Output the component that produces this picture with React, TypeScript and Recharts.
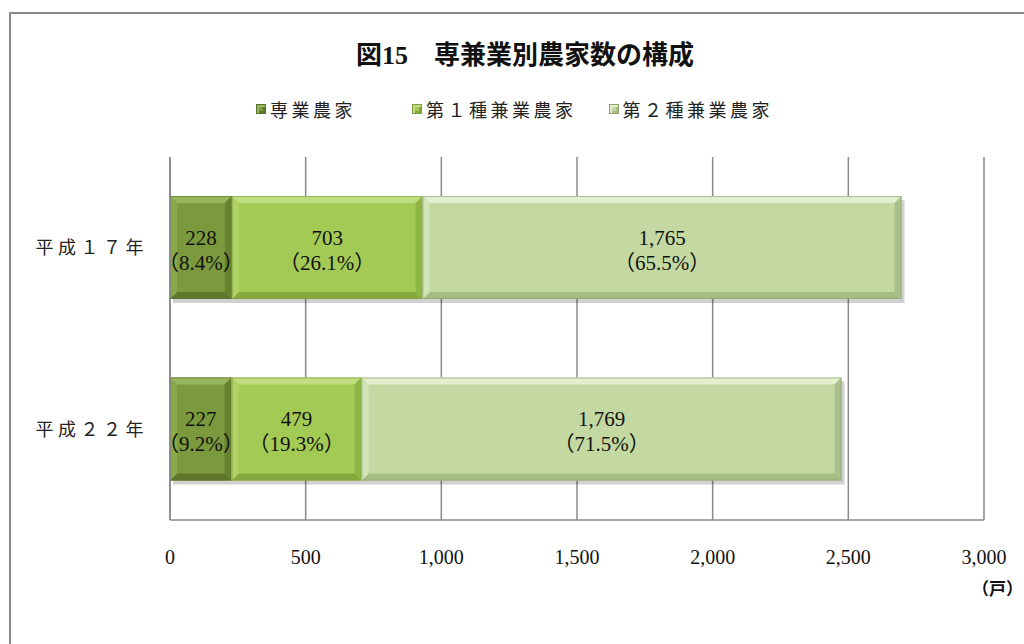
import React from "react";
import { BarChart, Bar, XAxis, YAxis, CartesianGrid, LabelList } from "recharts";

const categories = ["平成１７年", "平成２２年"];
const sengyo = [228, 227];
const dai1 = [703, 479];
const dai2 = [1765, 1769];
const sengyoPct = [8.4, 9.2];
const dai1Pct = [26.1, 19.3];
const dai2Pct = [65.5, 71.5];
const xTicks = [0, 500, 1000, 1500, 2000, 2500, 3000];

const seriesNames = ["専業農家", "第１種兼業農家", "第２種兼業農家"];

const data = categories.map((c, i) => ({
  category: c,
  sengyo: sengyo[i],
  dai1: dai1[i],
  dai2: dai2[i],
}));

type Bevel = { face: string; top: string; bottom: string; left: string; right: string; edge: string };

const bevels: Bevel[] = [
  { face: "#7b9a3d", top: "#98b75c", bottom: "#5e772c", left: "#88a849", right: "#66812f", edge: "#5a7029" },
  { face: "#a4ca56", top: "#c0de80", bottom: "#86a93e", left: "#b0d365", right: "#8fb446", edge: "#7f9c3e" },
  { face: "#c4d9a2", top: "#e2efcf", bottom: "#a5bc82", left: "#d2e4b8", right: "#a9c08a", edge: "#8ea070" },
];

const serif = '"Liberation Serif", "DejaVu Serif", "Noto Sans CJK JP", serif';
const jp = '"Liberation Serif", "Noto Sans CJK JP", serif';

// bar with a simple bevel + drop shadow, roughly like the Excel preset
const BevelBar = (bv: Bevel) => (props: any) => {
  const { x, y, width: w, height: h } = props;
  if (!w || !h) return null;
  const b = Math.min(7, w / 4);
  return (
    <g>
      <rect x={x + 3} y={y + 4} width={w} height={h} fill="rgba(0,0,0,0.18)" />
      <rect x={x} y={y} width={w} height={h} fill={bv.face} />
      <polygon points={`${x},${y} ${x + w},${y} ${x + w - b},${y + b} ${x + b},${y + b}`} fill={bv.top} />
      <polygon points={`${x},${y + h} ${x + w},${y + h} ${x + w - b},${y + h - b} ${x + b},${y + h - b}`} fill={bv.bottom} />
      <polygon points={`${x},${y} ${x + b},${y + b} ${x + b},${y + h - b} ${x},${y + h}`} fill={bv.left} />
      <polygon points={`${x + w},${y} ${x + w - b},${y + b} ${x + w - b},${y + h - b} ${x + w},${y + h}`} fill={bv.right} />
      <rect x={x + 0.5} y={y + 0.5} width={w - 1} height={h - 1} fill="none" stroke={bv.edge} strokeOpacity={0.6} />
    </g>
  );
};

const pctLabel = (pcts: number[]) => (props: any) => {
  const { x, y, width, height, value, index } = props;
  const cx = x + width / 2;
  const cy = y + height / 2;
  return (
    <text x={cx} y={cy} textAnchor="middle" fontFamily={serif} fontSize={21} fill="#111">
      <tspan x={cx} dy={-3}>{Number(value).toLocaleString("en-US")}</tspan>
      <tspan x={cx} dy={25}>{`（${pcts[index].toFixed(1)}%）`}</tspan>
    </text>
  );
};

const LegendBox = ({ bv }: { bv: Bevel }) => (
  <span
    style={{
      display: "inline-block",
      width: 8,
      height: 8,
      background: bv.face,
      border: `1px solid ${bv.edge}`,
      boxShadow: `inset 2px 2px 0 ${bv.top}, inset -2px -2px 0 ${bv.bottom}`,
      marginRight: 4,
    }}
  />
);

export default function App() {
  return (
    <div
      style={{
        position: "fixed",
        left: 0,
        top: 0,
        width: 1024,
        height: 644,
        overflow: "hidden",
        background: "#fff",
      }}
    >
      <div
        style={{
          position: "absolute",
          left: 9,
          top: 12,
          width: 1100,
          height: 700,
          borderTop: "2px solid #8a8a8a",
          borderLeft: "2px solid #8a8a8a",
        }}
      />
      <div
        style={{
          position: "absolute",
          left: 0,
          width: 1050,
          top: 34,
          textAlign: "center",
          fontFamily: jp,
          fontWeight: "bold",
          fontSize: 26,
          color: "#111",
        }}
      >
        図15　専兼業別農家数の構成
      </div>
      <div
        style={{
          position: "absolute",
          left: 0,
          top: 96,
          width: 1024,
          display: "flex",
          paddingLeft: 256,
          fontFamily: jp,
          fontSize: 18,
          letterSpacing: 3.5,
          color: "#222",
          alignItems: "center",
        }}
      >
        {seriesNames.map((n, i) => (
          <span key={n} style={{ display: "flex", alignItems: "center", marginRight: i === 0 ? 56 : 32 }}>
            <LegendBox bv={bevels[i]} />
            {n}
          </span>
        ))}
      </div>
      <div style={{ position: "absolute", left: 0, top: 0 }}>
        <BarChart
          width={1024}
          height={644}
          data={data}
          layout="vertical"
          margin={{ top: 157, right: 40, bottom: 64, left: 0 }}
        >
          <CartesianGrid horizontal={false} stroke="#8a8a8a" strokeWidth={1.5} />
          <XAxis
            type="number"
            domain={[0, 3000]}
            ticks={xTicks}
            height={60}
            tickSize={0}
            tickMargin={30}
            axisLine={{ stroke: "#8a8a8a", strokeWidth: 1.5 }}
            tickFormatter={(v) => v.toLocaleString("en-US")}
            tick={{ fill: "#111", fontSize: 20, fontFamily: serif }}
          />
          <YAxis
            type="category"
            dataKey="category"
            width={170}
            tickSize={0}
            tickMargin={22}
            axisLine={{ stroke: "#8a8a8a", strokeWidth: 1.5 }}
            tick={{ fill: "#222", fontSize: 18, fontFamily: jp, letterSpacing: 4.5 }}
          />
          <Bar dataKey="sengyo" stackId="a" barSize={103} isAnimationActive={false} shape={BevelBar(bevels[0])}>
            <LabelList dataKey="sengyo" content={pctLabel(sengyoPct)} />
          </Bar>
          <Bar dataKey="dai1" stackId="a" barSize={103} isAnimationActive={false} shape={BevelBar(bevels[1])}>
            <LabelList dataKey="dai1" content={pctLabel(dai1Pct)} />
          </Bar>
          <Bar dataKey="dai2" stackId="a" barSize={103} isAnimationActive={false} shape={BevelBar(bevels[2])}>
            <LabelList dataKey="dai2" content={pctLabel(dai2Pct)} />
          </Bar>
        </BarChart>
      </div>
      <div
        style={{
          position: "absolute",
          left: 972,
          top: 575,
          fontFamily: jp,
          fontWeight: "bold",
          fontSize: 17,
          color: "#111",
        }}
      >
        （戸）
      </div>
    </div>
  );
}
